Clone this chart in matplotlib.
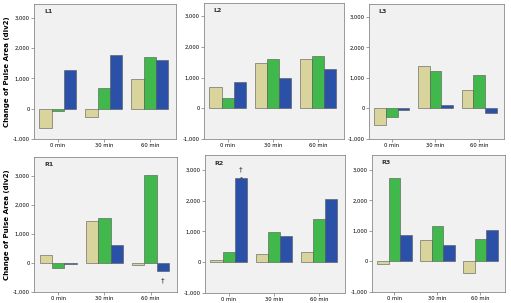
import matplotlib
matplotlib.use("Agg")
import matplotlib.pyplot as plt
import numpy as np

categories = ["0 min", "30 min", "60 min"]
ytick_values = [-1000, 0, 1000, 2000, 3000]
ytick_labels = ["-1,000", "0", "1,000", "2,000", "3,000"]
panel_names = ["L1", "L2", "L3", "R1", "R2", "R3"]

# each panel: [tan series, green series, blue series] over categories
L1 = [[-625, -275, 975], [-85, 680, 1715], [1265, 1770, 1615]]
L2 = [[685, 1465, 1590], [335, 1620, 1705], [860, 1000, 1295]]
L3 = [[-540, 1405, 595], [-285, 1220, 1090], [-55, 110, -145]]
R1 = [[265, 1440, -70], [-170, 1565, 3020], [-45, 620, -265]]
R2 = [[80, 250, 315], [335, 965, 1410], [2720, 835, 2050]]
R3 = [[-90, 700, -380], [2750, 1175, 735], [875, 530, 1035]]
panel_data = [L1, L2, L3, R1, R2, R3]

colors = ["#d8d49c", "#40b84b", "#2a50a8"]
W, H = 511, 303

# pixel boxes: left, right, top, bottom
boxes = [(34, 176, 4, 139), (204, 344, 3, 139), (369, 504, 4, 139),
         (34, 177, 157, 292), (205, 345, 155, 293), (372, 505, 155, 292)]
ytops = [3450, 3430, 3420, 3650, 3480, 3490]

fig = plt.figure(figsize=(W / 100, H / 100), dpi=100)
fig.patch.set_facecolor("white")

bw = 0.267
x = np.arange(len(categories))
for i, (name, data, box, ytop) in enumerate(zip(panel_names, panel_data, boxes, ytops)):
    l, r, t, b = box
    ax = fig.add_axes([l / W, 1 - b / H, (r - l) / W, (b - t) / H])
    ax.set_facecolor("#f1f1f1")
    for j, series in enumerate(data):
        ax.bar(x + (j - 1) * bw, series, width=bw, color=colors[j],
               edgecolor="#555555", linewidth=0.4, zorder=2)
    ax.set_xlim(-0.52, 2.57)
    ax.set_ylim(-1000, ytop)
    ax.set_xticks(x)
    ax.set_xticklabels(categories, fontsize=3.8)
    ax.set_yticks(ytick_values)
    ax.set_yticklabels(ytick_labels, fontsize=3.8)
    ax.tick_params(axis="both", length=2, width=0.4, pad=1, color="#555555")
    for s in ax.spines.values():
        s.set_color("#8a8a8a")
        s.set_linewidth(0.6)
    ax.text(0.07, 0.96, name, transform=ax.transAxes, fontsize=4.5,
            fontweight="bold", va="top", ha="left", color="#333333")
    if i in (0, 3):
        ax.set_ylabel("Change of Pulse Area (div2)", fontsize=5,
                      fontweight="bold", labelpad=2)
    if name == "R1":
        ax.text(x[2] + bw, data[2][2] - 250, "†", fontsize=5, ha="center",
                va="top", color="#333333")
    if name == "R2":
        ax.errorbar(x[0] + bw, data[2][0], yerr=[[0], [60]], fmt="none",
                    ecolor="#333333", elinewidth=0.4, capsize=1, capthick=0.4)
        ax.text(x[0] + bw, data[2][0] + 200, "†", fontsize=5, ha="center",
                va="bottom", color="#333333")

fig.savefig("out.png", dpi=100, facecolor="white")
